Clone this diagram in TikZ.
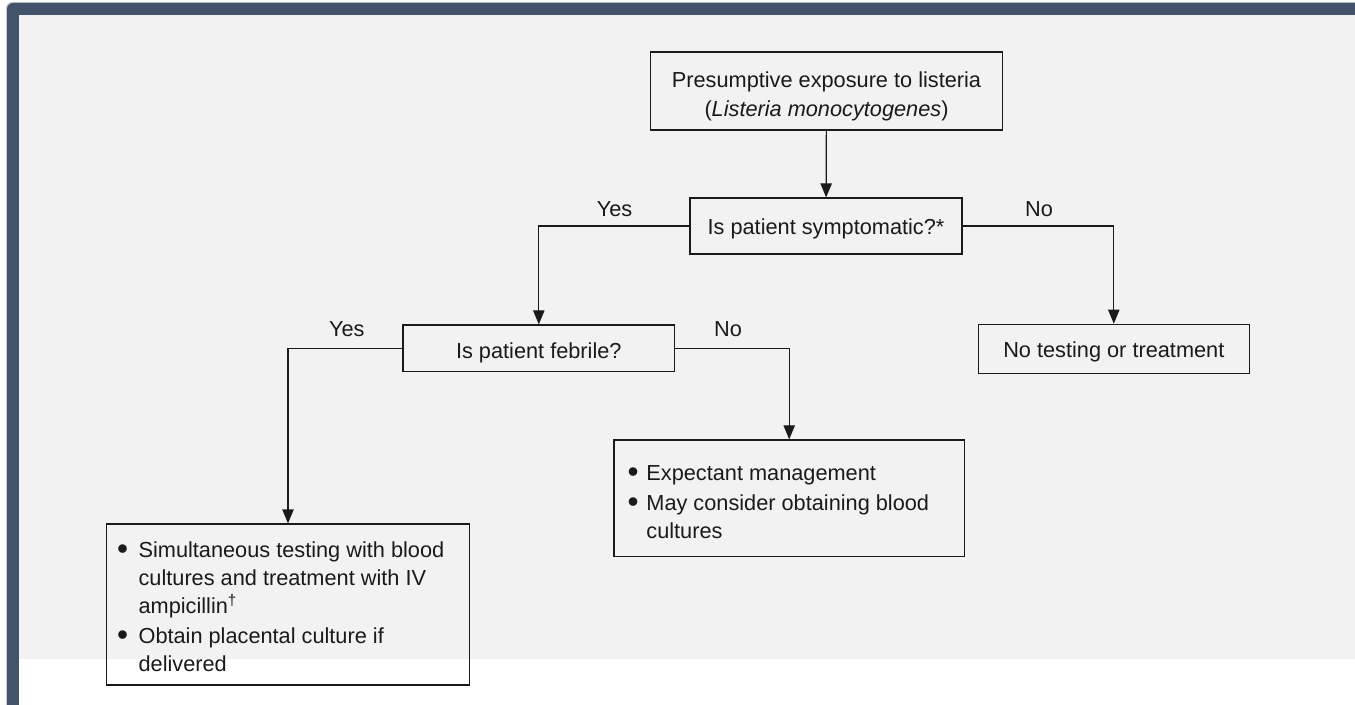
\documentclass[tikz,border=0pt]{standalone}
\usepackage{fontspec}
\setmainfont{Liberation Sans}
\usetikzlibrary{arrows.meta}
\definecolor{framec}{HTML}{42536B}
\definecolor{bgc}{HTML}{F2F2F2}
\definecolor{inkc}{HTML}{1A1A1A}
\definecolor{shadowc}{HTML}{C9CDD2}
\newcommand{\bigbul}{\raisebox{-0.09em}{\scalebox{1.45}{\textbullet}}}
\begin{document}
\begin{tikzpicture}[x=0.75pt,y=-0.75pt,
  font=\fontsize{16.3}{22}\selectfont,
  box/.style={draw=inkc, line width=0.9pt, inner sep=0pt},
  txt/.style={inner sep=0pt, align=center, text=inkc},
  arr/.style={draw=inkc, line width=0.9pt, -{Triangle[length=10.5pt,width=8.5pt]}},
  lbl/.style={inner sep=0pt, anchor=base, text=inkc},
  btext/.style={inner sep=0pt, anchor=west, text=inkc, font=\fontsize{16.3}{20.8}\selectfont}
]
\useasboundingbox (0,0) rectangle (1355,705);
\clip (0,0) rectangle (1355,705);
\fill[white] (0,0) rectangle (1355,705);
% frame
\fill[shadowc, rounded corners=4.5pt] (6,2) rectangle (1400,760);
\fill[framec, rounded corners=4.5pt] (7,3) rectangle (1400,760);
\fill[bgc] (19,15) rectangle (1356,659);
\fill[white] (19,659) rectangle (1356,706);

% boxes
\node[box, minimum width=263.5pt, minimum height=58.5pt] (b1) at (826.5,91) {};
\node[txt] (b1t) at ([yshift=-4pt]b1.center)
  {Presumptive exposure to listeria\\(\textit{Listeria monocytogenes})};
\node[box, minimum width=204pt, minimum height=42pt] (b2) at (826,226) {};
\node[txt] (b2t) at ([yshift=-2.5pt]b2.center) {Is patient symptomatic?*};
\node[box, minimum width=203.7pt, minimum height=34.8pt] (b3) at (538.8,348.2) {};
\node[txt] (b3t) at ([yshift=-3.5pt]b3.center) {Is patient febrile?};
\node[box, minimum width=203.25pt, minimum height=36.75pt] (b4) at (1113.8,348.8) {};
\node[txt] (b4t) at ([yshift=-2.5pt]b4.center) {No testing or treatment};
\node[box, minimum width=262.7pt, minimum height=87.5pt] (b5) at (789.2,498.3) {};
\node[box, minimum width=272pt, minimum height=120.75pt] (b6) at (288,604.5) {};

% bullet texts
\node[btext] (t5) at ([xshift=10.5pt,yshift=-4pt]b5.west) {%
\begin{tabular}{@{}p{14pt}@{}l@{}}
\bigbul & Expectant management\\[2pt]
\bigbul & May consider obtaining blood\\
 & cultures
\end{tabular}};
\node[btext] (t6) at ([xshift=8pt,yshift=-3.5pt]b6.west) {%
\begin{tabular}{@{}p{16.2pt}@{}l@{}}
\bigbul & Simultaneous testing with blood\\
 & cultures and treatment with IV\\
 & ampicillin\textsuperscript{†}\\[2pt]
\bigbul & Obtain placental culture if\\
 & delivered
\end{tabular}};

% connectors
\draw[arr] (b1) -- (b2);
\draw[arr] (b2.west) -| (b3.north);
\draw[arr] (b2.east) -| (b4.north);
\draw[arr] (b3.west) -| (b6.north);
\draw[arr] (b3.east) -| (b5.north);

% labels
\node[lbl] (yes1) at (614.5,217) {Yes};
\node[lbl] (no1) at (1039,217) {No};
\node[lbl] (yes2) at (346.8,337) {Yes};
\node[lbl] (no2) at (728,337) {No};
\end{tikzpicture}
\end{document}
